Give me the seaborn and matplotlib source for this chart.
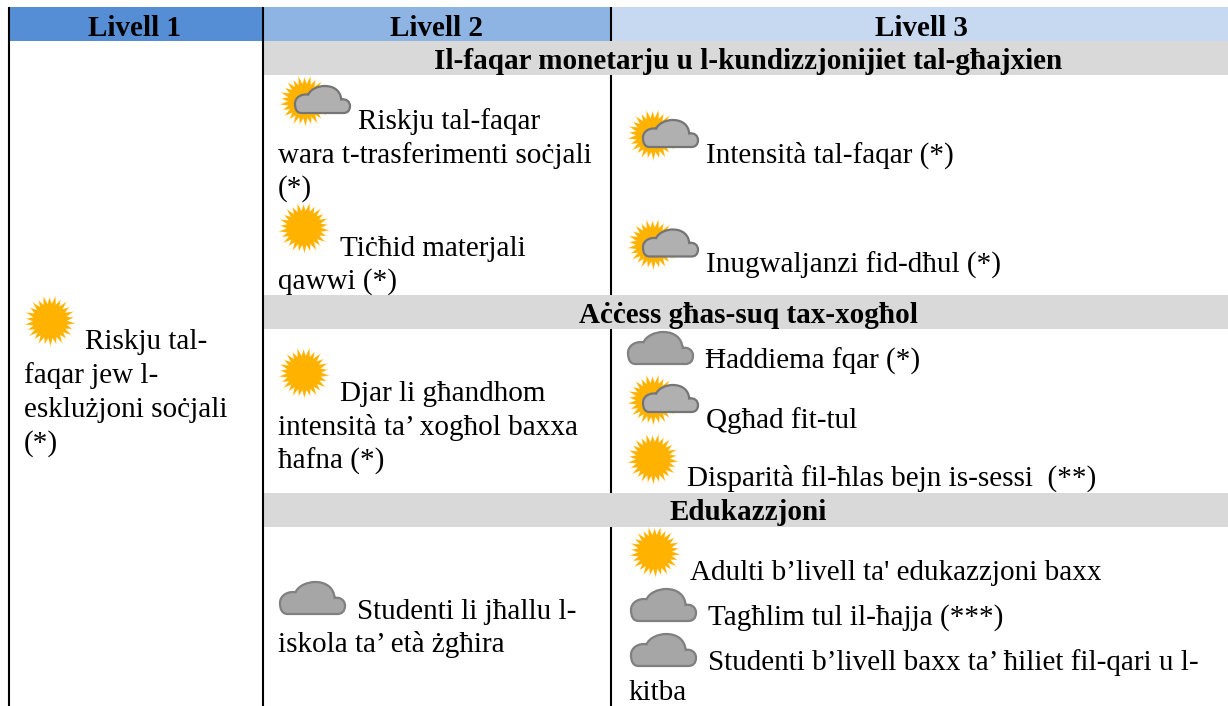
import numpy as np
import matplotlib
matplotlib.use("Agg")
import matplotlib.pyplot as plt
import seaborn as sns
from matplotlib.path import Path
from matplotlib.patches import PathPatch, Rectangle

# ---- content ----
levels = ["Livell 1", "Livell 2", "Livell 3"]
sections = ["Il-faqar monetarju u l-kundizzjonijiet tal-għajxien",
            "Aċċess għas-suq tax-xogħol",
            "Edukazzjoni"]
lines = ["Riskju tal-", "faqar jew l-", "esklużjoni soċjali", "(*)",
         "Riskju tal-faqar", "wara t-trasferimenti soċjali", "(*)",
         "Tiċħid materjali", "qawwi (*)",
         "Djar li għandhom", "intensità ta’ xogħol baxxa", "ħafna (*)",
         "Studenti li jħallu l-", "iskola ta’ età żgħira",
         "Intensità tal-faqar (*)", "Inugwaljanzi fid-dħul (*)",
         "Ħaddiema fqar (*)", "Qgħad fit-tul", "Disparità fil-ħlas bejn is-sessi  (**)",
         "Adulti b’livell ta' edukazzjoni baxx", "Tagħlim tul il-ħajja (***)",
         "Studenti b’livell baxx ta’ ħiliet fil-qari u l-", "kitba"]
icons = ["sun", "mixed", "sun", "sun", "cloud",
         "mixed", "mixed", "cloud", "mixed", "sun", "sun", "cloud", "cloud"]

# ---- layout (pixels of the page) ----
line_xy = [(85, 349), (24, 383), (24, 417), (24, 451),
           (358, 129), (278, 163), (278, 196),
           (340, 256), (278, 289),
           (340, 401), (278, 435), (278, 469),
           (357, 619), (278, 652),
           (706, 163), (706, 273),
           (705, 369), (706, 428), (687, 486),
           (690.5, 580), (708, 625), (708, 670), (628, 699.5)]
icon_xy = [(50, 321), (305, 101), (304, 228), (304, 373), (280, 582),
           (653, 135), (653, 244.5), (628, 332), (653, 400), (653, 459), (655, 552), (631, 589), (631, 634)]
head_x = [135, 437, 921.5]
head_col = ["#558ED5", "#8EB4E3", "#C6D9F1"]
head_edges = [8.7, 263, 611, 1228]
band_y = [(41, 75), (295, 329), (493, 527)]
band_base = [69, 323, 520]
band_x = 748
vlines = [(8.7, [(7, 706)]), (263, [(7, 706)]),
          (611, [(7, 41), (75, 295), (329, 493), (527, 706)])]

sns.set_theme(style="white")
plt.rcParams["font.family"] = ["Liberation Serif", "DejaVu Serif"]

fig = plt.figure(figsize=(12.28, 7.06), dpi=100)
ax = fig.add_axes([0, 0, 1, 1])
ax.set_xlim(0, 1228)
ax.set_ylim(706, 0)
ax.axis("off")
sns.despine(ax=ax, left=True, bottom=True)

FS = 21


def sun(cx, cy, r=26.5):
    n = 26
    ang = np.linspace(0, 2*np.pi, n*2, endpoint=False) + 0.1
    idx = np.arange(n*2)
    rad = np.where(idx % 2 == 0, r, r*0.70) * np.where(idx % 4 == 0, 1.0, 0.93)
    pts = np.c_[cx + rad*np.cos(ang), cy + rad*np.sin(ang)]
    ax.add_patch(plt.Polygon(pts, closed=True, fc="#FFE3A0", ec="none", zorder=2))
    rad2 = np.where(idx % 2 == 0, r*0.92, r*0.68) * np.where(idx % 4 == 0, 1.0, 0.94)
    pts = np.c_[cx + rad2*np.cos(ang), cy + rad2*np.sin(ang)]
    ax.add_patch(plt.Polygon(pts, closed=True, fc="#FFB300", ec="none", zorder=3))


def cloud(x0, y0, w, h, fc="#A6A6A6", ec="#808080"):
    v = [(0.12, 1), (0.03, 1), (0, 0.85), (0, 0.65), (0, 0.42), (0.12, 0.28), (0.24, 0.32),
         (0.28, 0.12), (0.42, 0), (0.54, 0), (0.72, 0), (0.83, 0.2), (0.84, 0.5),
         (0.93, 0.46), (1, 0.58), (1, 0.74), (1, 0.92), (0.95, 1), (0.88, 1), (0.12, 1)]
    c = [Path.MOVETO] + [Path.CURVE4]*18 + [Path.CLOSEPOLY]
    v = np.array(v) * [w, h] + [x0, y0]
    ax.add_patch(PathPatch(Path(v, c), fc=fc, ec=ec, lw=1.6, zorder=4))


for kind, (x, y) in zip(icons, icon_xy):
    if kind == "sun":
        sun(x, y)
    elif kind == "mixed":
        sun(x, y)
        cloud(x - 10, y - 15, 55, 27, fc="#B0B0B0", ec="#757575")
    else:
        cloud(x, y, 65, 32)

for i, lab in enumerate(levels):
    ax.add_patch(Rectangle((head_edges[i], 7), head_edges[i+1]-head_edges[i], 34,
                           fc=head_col[i], ec="none", zorder=1))
    ax.text(head_x[i], 36, lab, ha="center", va="baseline", fontsize=FS,
            fontweight="bold", color="black", zorder=6)

for (y0, y1), lab, b in zip(band_y, sections, band_base):
    ax.add_patch(Rectangle((263, y0), 965, y1-y0, fc="#D9D9D9", ec="none", zorder=1))
    ax.text(band_x, b, lab, ha="center", va="baseline", fontsize=FS,
            fontweight="bold", color="black", zorder=6)

for x, spans in vlines:
    for y0, y1 in spans:
        ax.plot([x, x], [y0, y1], color="black", lw=1.5, solid_capstyle="butt", zorder=5)

for lab, (x, y) in zip(lines, line_xy):
    ax.text(x, y, lab, ha="left", va="baseline", fontsize=FS, color="black", zorder=6)

fig.savefig("out.png", dpi=100)
